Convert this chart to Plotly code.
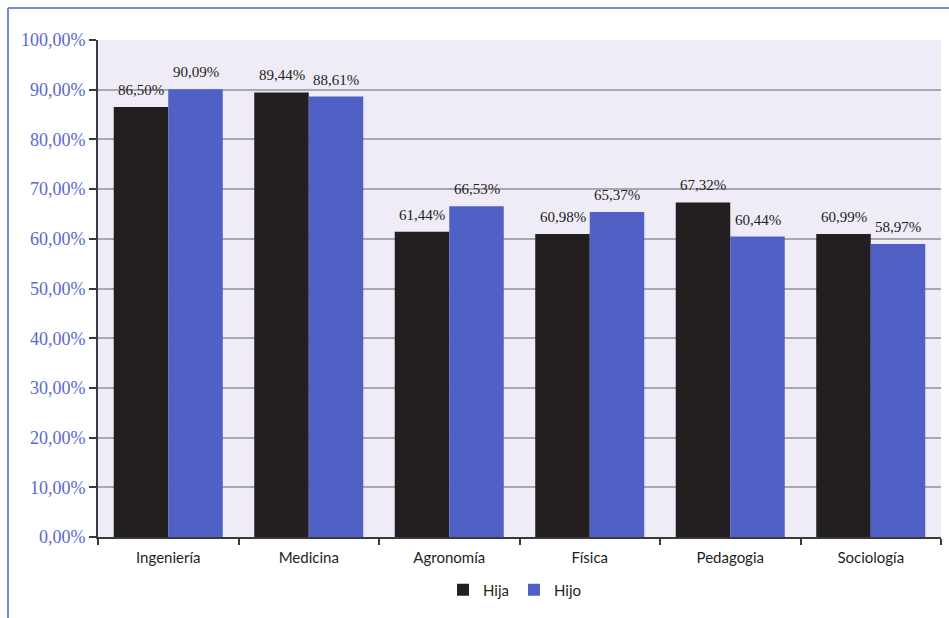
import plotly.graph_objects as go

carreras = ["Ingeniería", "Medicina", "Agronomía", "Física", "Pedagogia", "Sociología"]
hija = [86.50, 89.44, 61.44, 60.98, 67.32, 60.99]
hijo = [90.09, 88.61, 66.53, 65.37, 60.44, 58.97]
y_ticks = [0, 10, 20, 30, 40, 50, 60, 70, 80, 90, 100]
y_ticktext = [f"{v:.2f}".replace(".", ",") + "%" for v in y_ticks]

W, H = 949, 618
ML, MR, MT, MB = 98, 8, 40, 81
pw, ph = W - ML - MR, H - MT - MB

def px(x):
    return (x - ML) / pw

def py(y):
    return (H - MB - y) / ph

def pct(v):
    return f"{v:.2f}".replace(".", ",") + "%"

serif = "Liberation Serif"
sans = "Lato"
bar_px = 54.5  # width of one bar in pixels, used to centre labels on each bar

fig = go.Figure()
fig.add_trace(go.Bar(
    x=carreras, y=hija, name="Hija",
    marker=dict(color="#231f20", line=dict(width=0)),
))
fig.add_trace(go.Bar(
    x=carreras, y=hijo, name="Hijo",
    marker=dict(color="#5060c4", line=dict(width=0)),
))

# value labels above each bar
for series, shift in ((hija, -bar_px / 2), (hijo, bar_px / 2)):
    for cat, val in zip(carreras, series):
        fig.add_annotation(
            x=cat, y=val, xref="x", yref="y",
            text=pct(val), showarrow=False,
            xshift=shift, yshift=7, yanchor="bottom", xanchor="center",
            font=dict(family=serif, size=15, color="#231f20"),
        )

# outer frame lines (top and left)
fig.add_shape(type="line", xref="paper", yref="paper",
              x0=px(8), x1=px(W + 2), y0=py(8), y1=py(8),
              line=dict(color="#7b86da", width=2))
fig.add_shape(type="line", xref="paper", yref="paper",
              x0=px(8), x1=px(8), y0=py(8), y1=py(H + 2),
              line=dict(color="#7b86da", width=2))

fig.update_layout(
    width=W, height=H,
    margin=dict(l=ML, r=MR, t=MT, b=MB),
    paper_bgcolor="white",
    plot_bgcolor="#efecf7",
    barmode="group",
    bargap=0.224,
    bargroupgap=0,
    showlegend=True,
    legend=dict(orientation="h", x=px(515), xanchor="center", y=py(590), yanchor="middle",
                font=dict(family=sans, size=15, color="#231f20"),
                traceorder="normal"),
)
fig.update_xaxes(
    showline=True, linecolor="#3a3a3a", linewidth=2,
    ticks="outside", tickson="boundaries", ticklen=6, tickcolor="#3a3a3a", tickwidth=2,
    ticklabelstandoff=6,
    tickfont=dict(family=sans, size=15, color="#231f20"),
    showgrid=False,
)
fig.update_yaxes(
    range=[0, 100], tickmode="array", tickvals=y_ticks, ticktext=y_ticktext,
    showline=True, linecolor="#3a3a3a", linewidth=2,
    ticks="outside", ticklen=7, tickcolor="#3a3a3a", tickwidth=2,
    tickfont=dict(family=serif, size=18, color="#5a68cf"),
    showgrid=True, gridcolor="#a8a8b0", gridwidth=1.5,
    zeroline=False,
)

fig.write_html("out.html")
